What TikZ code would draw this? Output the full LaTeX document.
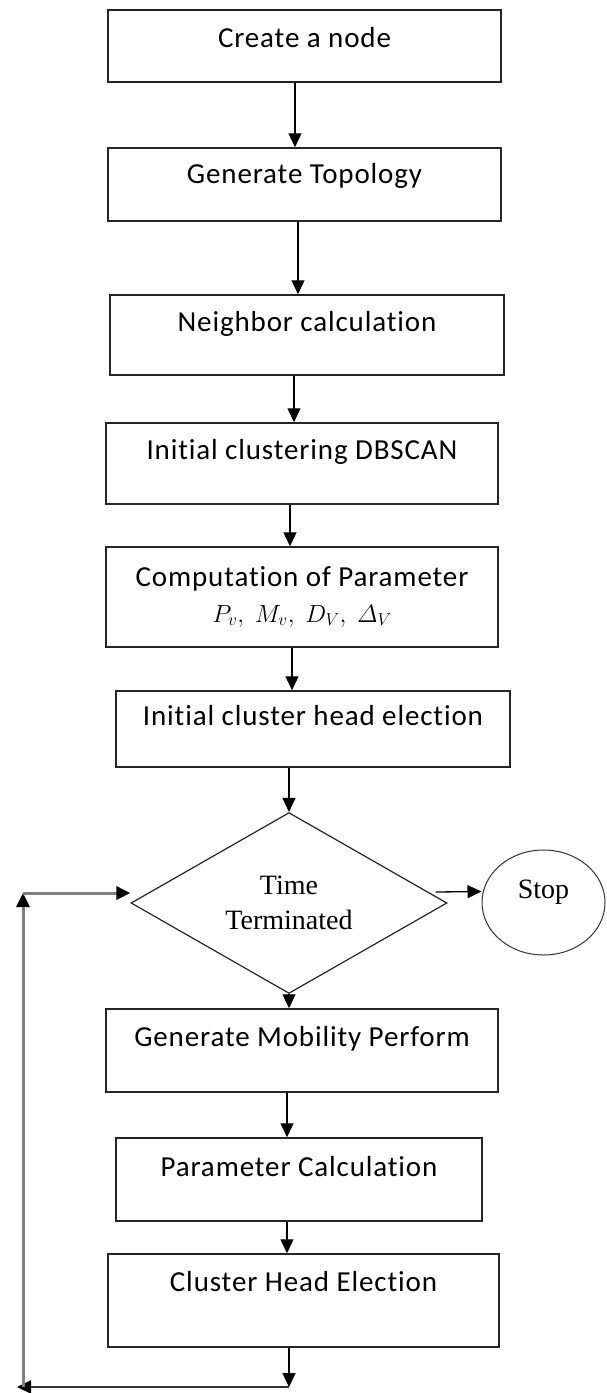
\documentclass[tikz,border=0pt]{standalone}
\usepackage{amsmath}
\usepackage{fontspec}
\newfontfamily\boxfont{Carlito}[LetterSpace=3,Ligatures=NoCommon]
\newfontfamily\tmfont{Liberation Serif}
\usetikzlibrary{shapes.geometric,arrows.meta}
\tikzset{
  pbox/.style={draw=black!85, line width=1.5pt, rectangle, inner sep=0pt,
    font=\boxfont\fontsize{29}{36}\selectfont, text height=22pt, align=center},
  arr/.style={-{Triangle[length=14pt,width=13pt]}, line width=1.3pt, black},
  garr/.style={draw=black!50, line width=3pt, -{Triangle[length=14pt,width=13pt,color=black]}},
  barr/.style={draw=black!80, line width=2pt, -{Triangle[length=14pt,width=13pt,color=black]}},
  decision/.style={diamond, draw=black!85, line width=1.2pt, inner sep=0pt,
    minimum width=316pt, minimum height=150pt, align=center,
    font=\tmfont\fontsize{28}{35}\selectfont},
  term/.style={ellipse, draw=black!80, line width=1pt, inner sep=0pt,
    minimum width=123pt, minimum height=105pt,
    font=\tmfont\fontsize{28}{34}\selectfont, text height=19pt, text depth=27pt}
}
\begin{document}
\begin{tikzpicture}[x=1pt,y=-1pt]
\useasboundingbox (0,0) rectangle (606,1393);
\node[pbox, minimum width=393pt, minimum height=72pt, text depth=18.6pt] (b1) at (304.5,46) {Create a node};
\node[pbox, minimum width=393pt, minimum height=73pt, text depth=24.4pt] (b2) at (304.5,184.5) {Generate Topology};
\node[pbox, minimum width=394pt, minimum height=80pt, text depth=30pt] (b3) at (307,335) {Neighbor calculation};
\node[pbox, minimum width=392pt, minimum height=81pt, text depth=30.4pt] (b4) at (302,463.5) {Initial clustering DBSCAN};
\node[pbox, minimum width=392pt, minimum height=100pt, text height=60pt, text depth=10pt] (b5) at (302,597) {Computation of Parameter\\{\fontsize{26}{36}\selectfont$P_{v},\ M_{v},\ D_{V},\ \varDelta_{V}$}};
\node[pbox, minimum width=394pt, minimum height=76pt, text depth=30pt] (b6) at (313,729) {Initial cluster head election};
\node[decision] (dia) at (289,903) {Time\\Terminated};
\node[term] (stop) at (543.5,902.5) {Stop};
\node[pbox, minimum width=392pt, minimum height=83pt, text depth=29.6pt] (b7) at (302,1050.5) {Generate Mobility Perform};
\node[pbox, minimum width=366pt, minimum height=83pt, text depth=29pt] (b8) at (299,1179.5) {Parameter Calculation};
\node[pbox, minimum width=391pt, minimum height=93pt, text depth=41pt] (b9) at (303.5,1300.5) {Cluster Head Election};
\coordinate (c1) at (289,1387);
\coordinate (c2) at (23,1387);
\coordinate (c3) at (23,893);
\draw[arr] (b1.south -| 295,0) -- (b2.north -| 295,0);
\draw[arr] (b2.south -| 298,0) -- (b3.north -| 298,0);
\draw[arr] (b3.south -| 294,0) -- (b4.north -| 294,0);
\draw[arr] (b4.south -| 290,0) -- (b5.north -| 290,0);
\draw[arr] (b5.south -| 292,0) -- (b6.north -| 292,0);
\draw[arr] (b6.south -| dia.north) -- (dia.north);
\draw[arr] (dia.south) -- (b7.north -| dia.south);
\draw[arr] (b7.south -| 287,0) -- (b8.north -| 287,0);
\draw[arr] (b8.south -| 287,0) -- (b9.north -| 287,0);
\draw[arr] ([xshift=-12pt,yshift=11pt]dia.east) -- ([yshift=11pt]stop.west);
\draw[arr] (c1 |- b9.south) -- (c1);
\draw[barr] (c1) -- ([xshift=-6pt]c2);
\draw[garr] (c2) -- (c3);
\draw[garr] (c3) -- (c3 -| dia.west);
\end{tikzpicture}
\end{document}
